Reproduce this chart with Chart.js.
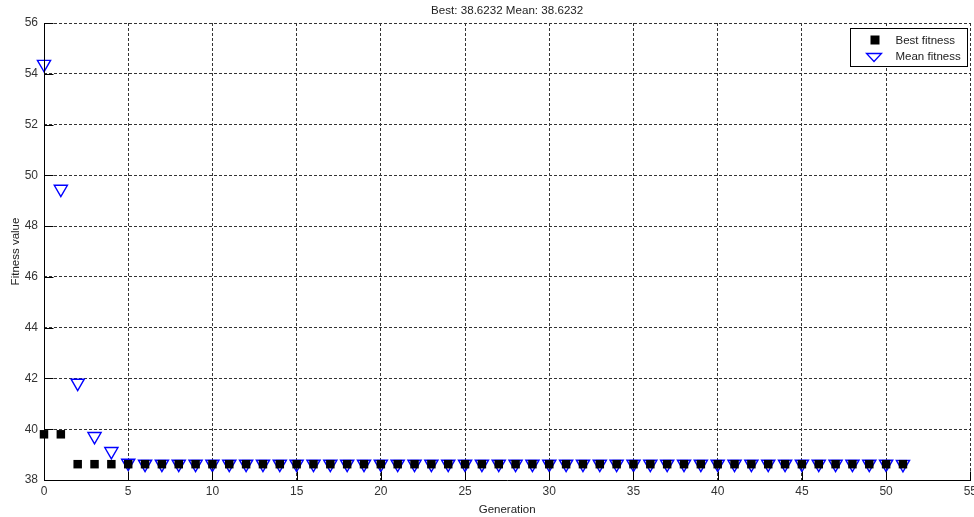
<!DOCTYPE html>
<html><head><meta charset="utf-8">
<script src="https://cdn.jsdelivr.net/npm/chart.js@4"></script>
<style>html,body{margin:0;padding:0;background:#fff;overflow:hidden;width:974px;height:517px}#wrap{width:981px;height:517px}</style>
</head><body><div id="wrap"><canvas id="c" width="981" height="517"></canvas></div>
<script>
const titleText = "Best: 38.6232 Mean: 38.6232";
const generations = [0,1,2,3,4,5,6,7,8,9,10,11,12,13,14,15,16,17,18,19,20,21,22,23,24,25,26,27,28,29,30,31,32,33,34,35,36,37,38,39,40,41,42,43,44,45,46,47,48,49,50,51];
const bestFitness = [39.8,39.8,38.6232,38.6232,38.6232,38.6232,38.6232,38.6232,38.6232,38.6232,38.6232,38.6232,38.6232,38.6232,38.6232,38.6232,38.6232,38.6232,38.6232,38.6232,38.6232,38.6232,38.6232,38.6232,38.6232,38.6232,38.6232,38.6232,38.6232,38.6232,38.6232,38.6232,38.6232,38.6232,38.6232,38.6232,38.6232,38.6232,38.6232,38.6232,38.6232,38.6232,38.6232,38.6232,38.6232,38.6232,38.6232,38.6232,38.6232,38.6232,38.6232,38.6232];
const meanFitness = [54.38,49.46,41.82,39.72,39.13,38.67,38.63,38.63,38.63,38.63,38.63,38.63,38.63,38.63,38.63,38.63,38.63,38.63,38.63,38.63,38.63,38.63,38.63,38.63,38.63,38.63,38.63,38.63,38.63,38.63,38.63,38.63,38.63,38.63,38.63,38.63,38.63,38.63,38.63,38.63,38.63,38.63,38.63,38.63,38.63,38.63,38.63,38.63,38.63,38.63,38.63,38.6232];
const seriesNames = ["Best fitness","Mean fitness"];
const xTitle = "Generation", yTitle = "Fitness value";

const FONT = "'Liberation Sans', Arial, sans-serif";

const boxPlugin = {
  id: 'box',
  afterDatasetsDraw(chart) {
    const {ctx, chartArea: a, scales} = chart;
    ctx.save();
    ctx.strokeStyle = '#000';
    ctx.lineWidth = 1;
    const L = Math.round(a.left)+0.5, B = Math.round(a.bottom)+0.5;
    ctx.beginPath();
    ctx.moveTo(L, Math.round(a.top)); ctx.lineTo(L, B); ctx.lineTo(Math.round(a.right)+1, B);
    ctx.stroke();
    ctx.beginPath();
    scales.x.ticks.forEach(t => {
      const px = Math.round(scales.x.getPixelForValue(t.value))+0.5;
      ctx.moveTo(px, B); ctx.lineTo(px, B-9);
    });
    scales.y.ticks.forEach(t => {
      const py = Math.round(scales.y.getPixelForValue(t.value))+0.5;
      ctx.moveTo(L, py); ctx.lineTo(L+9, py);
    });
    ctx.stroke();
    ctx.restore();
  },
  afterDraw(chart) {
    const {ctx, chartArea: a} = chart;
    ctx.save();
    ctx.fillStyle = '#222';
    ctx.font = "11.6px " + FONT;
    ctx.textAlign = 'center';
    ctx.textBaseline = 'middle';
    ctx.fillText(titleText, (a.left + a.right) / 2, 11);
    ctx.textAlign = 'left';
    ctx.strokeStyle = '#000'; ctx.lineWidth = 1;
    const lw = 117, lh = 38;
    const lx = Math.round(a.right) - lw - 3 + 0.5, ly = Math.round(a.top) + 5 + 0.5;
    ctx.fillStyle = '#fff';
    ctx.fillRect(lx, ly, lw, lh);
    ctx.strokeRect(lx, ly, lw, lh);
    ctx.fillStyle = '#000';
    ctx.fillRect(lx+20, ly+7, 9, 9);
    ctx.strokeStyle = '#0000ff'; ctx.lineWidth = 1.3;
    ctx.beginPath();
    ctx.moveTo(lx+16, ly+25); ctx.lineTo(lx+31, ly+25); ctx.lineTo(lx+23.5, ly+33); ctx.closePath();
    ctx.stroke();
    ctx.fillStyle = '#222';
    ctx.font = "11.5px " + FONT;
    ctx.textBaseline = 'middle';
    ctx.fillText(seriesNames[0], lx+45, ly+12);
    ctx.fillText(seriesNames[1], lx+45, ly+28);
    ctx.restore();
  }
};

new Chart(document.getElementById('c'), {
  type: 'scatter',
  data: {
    datasets: [
      { label: seriesNames[0], data: generations.map((g,i)=>({x:g,y:bestFitness[i]})),
        pointStyle: 'rect', pointRadius: 6, backgroundColor: '#000', borderColor: '#000', borderWidth: 0, clip: false },
      { label: seriesNames[1], data: generations.map((g,i)=>({x:g,y:meanFitness[i]})),
        pointStyle: 'triangle', rotation: 180, pointRadius: 7.6, backgroundColor: 'rgba(0,0,0,0)', borderColor: '#0000ff', borderWidth: 1.4, clip: false }
    ]
  },
  options: {
    responsive: false, animation: false,
    layout: { padding: { left: 0, right: 0, top: 23, bottom: 0 } },
    plugins: {
      legend: { display: false },
      tooltip: { enabled: false },
      title: { display: false }
    },
    scales: {
      x: { type: 'linear', min: 0, max: 55,
        ticks: { stepSize: 5, color: '#333', font: { family: FONT, size: 12 }, padding: 4, maxRotation: 0 },
        grid: { color: '#333', lineWidth: 1, drawTicks: false, borderDash: [3,2] },
        border: { display: false, dash: [3,2] },
        title: { display: true, text: xTitle, color: '#222', font: { family: FONT, size: 11.5 }, padding: { top: 1, bottom: 0 } },
        afterFit(s) { s.height = 37; }
      },
      y: { min: 38, max: 56,
        ticks: { stepSize: 2, color: '#333', font: { family: FONT, size: 12 }, padding: 6 },
        grid: { color: '#333', lineWidth: 1, drawTicks: false, borderDash: [3,2] },
        border: { display: false, dash: [3,2] },
        title: { display: true, text: yTitle, color: '#222', font: { family: FONT, size: 11.5 }, padding: { top: 9, bottom: 0 } },
        afterFit(s) { s.width = 44; }
      }
    }
  },
  plugins: [boxPlugin]
});
</script>
</body></html>
